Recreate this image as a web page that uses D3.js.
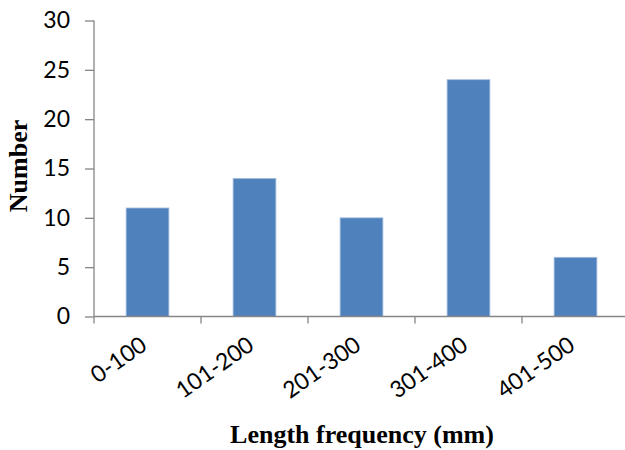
<!DOCTYPE html>
<html>
<head>
<meta charset="utf-8">
<script src="https://cdn.jsdelivr.net/npm/d3@7"></script>
<style>
  html, body { margin: 0; padding: 0; background: #fff; }
  svg { display: block; }
</style>
</head>
<body>
<svg id="chart" width="625" height="450"></svg>
<script>
// Length classes (mm) and the number of fish in each
const categories = ["0-100", "101-200", "201-300", "301-400", "401-500"];
const counts = [11, 14, 10, 24, 6];
const yTicks = [0, 5, 10, 15, 20, 25, 30];

const svg = d3.select("#chart");
const margin = { left: 94, right: -4, top: 20.5, bottom: 133.5 };
const width = 625 - margin.left - margin.right;
const height = 450 - margin.top - margin.bottom;

const g = svg.append("g").attr("transform", `translate(${margin.left},${margin.top})`);

const x = d3.scaleBand().domain(categories).range([0, width]).paddingInner(0.6).paddingOuter(0.3);
const y = d3.scaleLinear().domain([0, 30]).range([height, 0]);

const axisColor = "#868686";
const labelFont = "Lato, 'Open Sans', sans-serif";
const titleFont = "'Liberation Serif', 'Times New Roman', serif";

// bars
g.selectAll("rect.bar")
  .data(categories)
  .join("rect")
  .attr("class", "bar")
  .attr("x", d => x(d))
  .attr("y", (d, i) => y(counts[i]))
  .attr("width", x.bandwidth())
  .attr("height", (d, i) => height - y(counts[i]))
  .attr("fill", "#4F81BD")
  .attr("stroke", "#A9C0DE")
  .attr("stroke-width", 0.8);

// y axis
const yAxis = g.append("g")
  .call(d3.axisLeft(y).tickValues(yTicks).tickSize(9).tickPadding(15).tickFormat(d3.format("d")));
yAxis.select(".domain").attr("stroke", axisColor).attr("stroke-width", 1.3).attr("d", `M0,${height}V0`);
yAxis.selectAll(".tick line").attr("stroke", axisColor).attr("stroke-width", 1.3);
yAxis.selectAll(".tick text")
  .attr("font-family", labelFont)
  .attr("font-size", 23)
  .attr("fill", "#000");

// x axis: ticks on category boundaries
const step = x.step();
const boundaries = d3.range(categories.length).map(i => i * step);
const xg = g.append("g").attr("transform", `translate(0,${height})`);
xg.append("line")
  .attr("x1", 0).attr("x2", width)
  .attr("y1", 0).attr("y2", 0)
  .attr("stroke", axisColor).attr("stroke-width", 1.3);
xg.selectAll("line.tick")
  .data(boundaries)
  .join("line")
  .attr("class", "tick")
  .attr("x1", d => d).attr("x2", d => d)
  .attr("y1", 0).attr("y2", 7)
  .attr("stroke", axisColor).attr("stroke-width", 1.3);

xg.selectAll("text.cat")
  .data(categories)
  .join("text")
  .attr("class", "cat")
  .attr("transform", d => `translate(${x(d) + x.bandwidth() / 2 + 1},${32}) rotate(-35)`)
  .attr("text-anchor", "end")
  .attr("font-family", labelFont)
  .attr("font-size", 23)
  .attr("fill", "#000")
  .text(d => d);

// axis titles
svg.append("text")
  .attr("x", 362)
  .attr("y", 443)
  .attr("text-anchor", "middle")
  .attr("font-family", titleFont)
  .attr("font-weight", "bold")
  .attr("font-size", 26)
  .attr("fill", "#000")
  .text("Length frequency (mm)");

svg.append("text")
  .attr("transform", "translate(27,166) rotate(-90)")
  .attr("text-anchor", "middle")
  .attr("font-family", titleFont)
  .attr("font-weight", "bold")
  .attr("font-size", 26)
  .attr("fill", "#000")
  .text("Number");
</script>
</body>
</html>
